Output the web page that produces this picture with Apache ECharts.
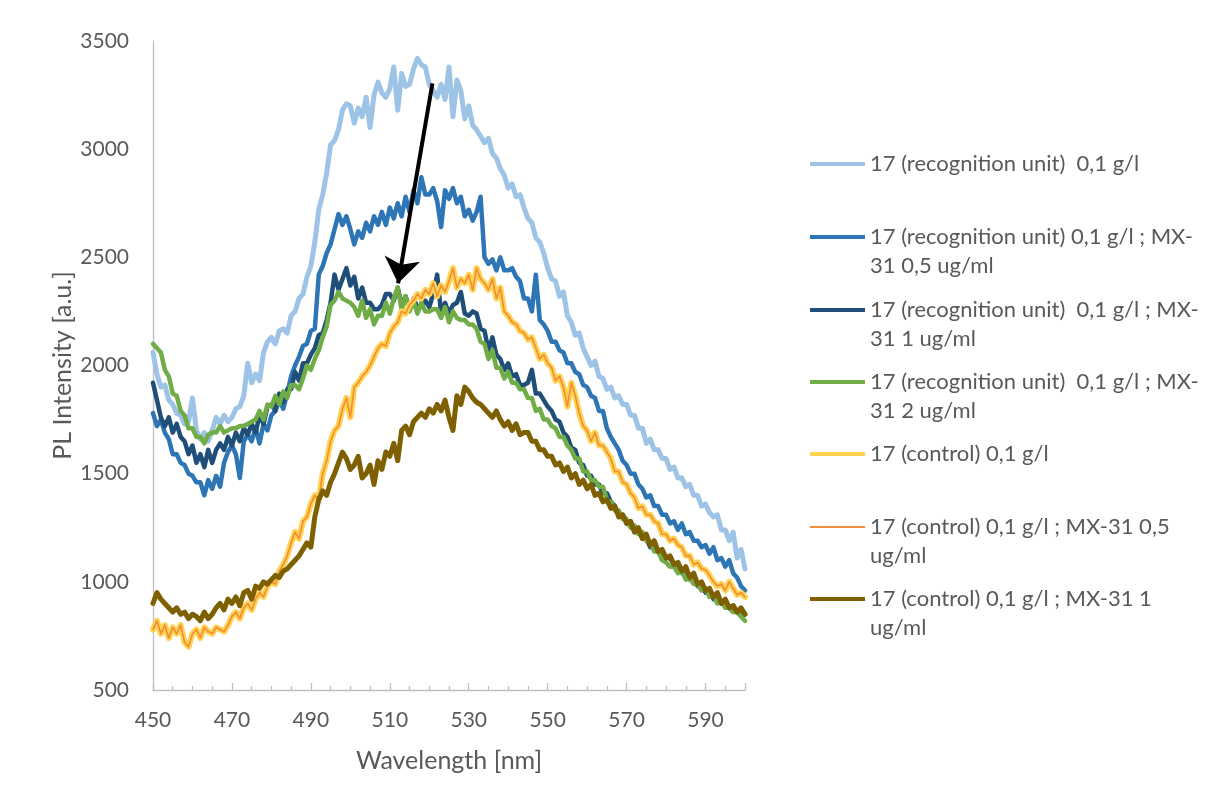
<!DOCTYPE html>
<html><head><meta charset="utf-8">
<script src="https://cdn.jsdelivr.net/npm/echarts@6/dist/echarts.min.js"></script>
<style>html,body{margin:0;padding:0;background:#fff}#c{width:1206px;height:800px}</style>
</head><body><div id="c"></div><script>
// Wavelength grid: 450 .. 600 nm, 1 nm step
const wlStart = 450, wlEnd = 600, wlStep = 1;
const xTicks = [450, 470, 490, 510, 530, 550, 570, 590];
const yTicks = [500, 1000, 1500, 2000, 2500, 3000, 3500];

const recog = [2060,1960,1900,1910,1840,1820,1780,1770,1730,1740,
1850,1700,1660,1690,1650,1700,1760,1730,1770,1740,
1760,1800,1810,1860,2010,1920,1960,1930,2060,2110,
2130,2100,2160,2170,2150,2230,2250,2310,2330,2410,
2460,2570,2720,2790,2890,3020,3040,3090,3180,3210,
3200,3120,3190,3150,3240,3100,3250,3310,3260,3240,
3280,3380,3180,3350,3290,3300,3370,3420,3390,3380,
3300,3270,3240,3300,3230,3380,3150,3320,3270,3140,
3200,3110,3090,3060,3030,3050,2980,2960,2910,2880,
2820,2840,2780,2790,2730,2680,2660,2590,2570,2520,
2450,2400,2390,2320,2340,2230,2200,2140,2150,2080,
2040,2000,2020,1950,1940,1890,1900,1850,1860,1820,
1820,1770,1770,1710,1710,1640,1660,1610,1610,1570,
1570,1520,1530,1480,1480,1440,1450,1400,1400,1350,
1360,1320,1300,1310,1240,1240,1190,1230,1110,1150,
1060];

const recogMx05 = [1780,1720,1750,1690,1660,1590,1590,1550,1540,1500,
1490,1460,1460,1400,1470,1430,1490,1440,1550,1600,
1630,1590,1480,1650,1680,1650,1710,1640,1730,1700,
1770,1790,1840,1800,1870,1950,2000,2040,2090,2100,
2160,2170,2420,2460,2520,2560,2630,2700,2650,2690,
2630,2560,2620,2590,2660,2620,2690,2650,2710,2650,
2730,2680,2750,2690,2780,2710,2810,2750,2870,2790,
2790,2820,2760,2640,2810,2770,2820,2750,2780,2690,
2720,2670,2710,2780,2500,2470,2490,2440,2500,2440,
2440,2450,2410,2390,2310,2310,2250,2420,2210,2190,
2160,2110,2110,2070,2060,2010,2010,1970,1960,1910,
1900,1860,1850,1790,1790,1710,1670,1640,1610,1560,
1540,1500,1500,1450,1430,1390,1400,1350,1350,1310,
1310,1270,1280,1240,1270,1220,1230,1190,1190,1160,
1170,1130,1160,1100,1110,1070,1100,1040,1020,980,
960];

const recogMx1 = [1920,1840,1760,1720,1760,1690,1730,1670,1650,1590,
1630,1550,1590,1530,1610,1550,1610,1640,1610,1670,
1630,1690,1650,1710,1680,1730,1690,1770,1730,1810,
1820,1790,1870,1830,1890,1890,1970,1930,2010,2010,
2050,2080,2140,2150,2210,2290,2420,2350,2400,2450,
2370,2410,2310,2360,2290,2290,2260,2260,2280,2330,
2330,2300,2360,2280,2320,2260,2310,2270,2270,2300,
2270,2330,2420,2240,2290,2240,2280,2290,2340,2240,
2230,2250,2240,2170,2160,2070,2130,2050,2030,1980,
2010,1950,1960,1910,1910,1920,1980,1870,1870,1840,
1810,1790,1750,1740,1690,1670,1620,1610,1550,1540,
1490,1490,1450,1450,1410,1410,1370,1350,1310,1310,
1280,1280,1240,1240,1200,1200,1160,1170,1140,1140,
1110,1110,1080,1080,1040,1050,1010,1010,980,980,
950,960,920,930,900,910,880,890,860,870,
850];

const recogMx2 = [2100,2080,2060,1980,1950,1870,1860,1790,1770,1710,
1710,1670,1670,1640,1680,1690,1690,1720,1690,1700,
1710,1710,1720,1720,1730,1740,1750,1790,1750,1820,
1810,1860,1820,1880,1850,1910,1910,1890,1940,2000,
1980,2030,2070,2130,2180,2280,2300,2340,2310,2300,
2290,2270,2230,2300,2220,2260,2190,2230,2230,2290,
2240,2310,2360,2260,2320,2250,2300,2240,2290,2250,
2250,2260,2260,2220,2270,2200,2250,2220,2210,2210,
2190,2190,2170,2110,2100,2030,2070,1990,1990,1940,
1970,1920,1920,1890,1890,1850,1850,1790,1800,1750,
1750,1720,1710,1670,1670,1630,1610,1570,1570,1510,
1510,1470,1470,1440,1440,1380,1370,1330,1330,1290,
1290,1250,1260,1220,1230,1190,1180,1140,1140,1100,
1090,1070,1070,1040,1050,1010,1020,990,990,960,
970,930,940,900,910,880,880,860,860,840,
820];

const control = [780,820,760,800,740,790,760,800,720,700,
760,780,740,790,770,760,790,780,770,800,
840,860,830,880,900,870,920,950,930,980,
1000,990,1050,1080,1120,1180,1230,1200,1280,1300,
1360,1400,1380,1500,1560,1650,1700,1720,1800,1850,
1760,1900,1920,1950,1970,2000,2040,2080,2100,2090,
2150,2180,2200,2250,2240,2280,2300,2330,2310,2350,
2330,2380,2320,2370,2340,2390,2450,2360,2400,2380,
2420,2350,2450,2400,2380,2350,2400,2310,2360,2250,
2230,2200,2190,2160,2150,2120,2130,2080,2030,2050,
2010,1990,1930,1950,1900,1810,1920,1860,1780,1720,
1700,1650,1690,1630,1630,1600,1570,1510,1510,1460,
1450,1410,1390,1340,1350,1310,1310,1280,1270,1220,
1220,1190,1200,1170,1160,1120,1120,1080,1090,1060,
1055,1030,1000,980,990,960,1000,970,940,950,
930];

const controlMx05 = control.slice(); // overlaps the control curve in the original

const controlMx1 = [900,950,920,900,880,860,880,850,860,830,
850,840,820,860,830,850,880,900,870,920,
900,930,890,950,960,920,980,970,1000,990,
1010,1030,1020,1050,1060,1080,1100,1120,1150,1180,
1160,1300,1380,1420,1400,1460,1500,1550,1600,1570,
1520,1540,1580,1480,1500,1540,1450,1560,1520,1600,
1580,1640,1560,1700,1720,1680,1740,1760,1780,1760,
1800,1780,1820,1790,1840,1760,1700,1860,1820,1900,
1880,1850,1830,1820,1800,1780,1760,1790,1750,1720,
1740,1700,1730,1680,1690,1690,1650,1650,1610,1610,
1580,1580,1540,1550,1510,1530,1480,1500,1450,1470,
1430,1450,1400,1410,1370,1380,1340,1350,1300,1310,
1270,1280,1230,1250,1200,1220,1170,1190,1140,1150,
1110,1120,1080,1090,1050,1070,1020,1040,990,1000,
960,970,930,950,900,920,880,890,860,880,
850];

const seriesNames = [
  '17 (recognition unit)  0,1 g/l',
  '17 (recognition unit) 0,1 g/l ; MX-31 0,5 ug/ml',
  '17 (recognition unit)  0,1 g/l ; MX-31 1 ug/ml',
  '17 (recognition unit)  0,1 g/l ; MX-31 2 ug/ml',
  '17 (control) 0,1 g/l',
  '17 (control) 0,1 g/l ; MX-31 0,5 ug/ml',
  '17 (control) 0,1 g/l ; MX-31 1 ug/ml'
];
const legendLines = [
  ['17 (recognition unit)  0,1 g/l'],
  ['17 (recognition unit) 0,1 g/l ; MX-', '31 0,5 ug/ml'],
  ['17 (recognition unit)  0,1 g/l ; MX-', '31 1 ug/ml'],
  ['17 (recognition unit)  0,1 g/l ; MX-', '31 2 ug/ml'],
  ['17 (control) 0,1 g/l'],
  ['17 (control) 0,1 g/l ; MX-31 0,5', 'ug/ml'],
  ['17 (control) 0,1 g/l ; MX-31 1', 'ug/ml']
];
const seriesValues = [recog, recogMx05, recogMx1, recogMx2, control, controlMx05, controlMx1];
const seriesColors = ['#9DC3E6', '#2E75B6', '#1F4E79', '#70AD47', '#FFD34F', '#F08C3A', '#7F6000'];
const seriesWidths = [5, 4.5, 4.5, 4.5, 6, 1.6, 5];
const legendIconH = [4, 4, 4, 4, 4, 2, 4];
const legendIconY = [164, 237, 310, 382, 454, 527, 599];

// annotation arrow (data coordinates): from -> to
const arrowFrom = [520.8, 3304];
const arrowTo = [512.1, 2380];

const FONT = 'Lato, "Liberation Sans", sans-serif';
const TXT = '#595959';
const AX = '#BFBFBF';
const LH = 29;

const wl = [];
for (let w = wlStart; w <= wlEnd; w += wlStep) wl.push(w);

const series = seriesValues.map((vals, i) => ({
  name: seriesNames[i],
  type: 'line',
  data: vals.map((v, k) => [wl[k], v]),
  showSymbol: false,
  symbol: 'none',
  color: seriesColors[i],
  lineStyle: { width: seriesWidths[i], color: seriesColors[i], join: 'round', cap: 'round' },
  emphasis: { disabled: true },
  z: 2 + i
}));
series[series.length - 1].markLine = {
  silent: true,
  symbol: ['none', 'arrow'],
  symbolSize: [27, 25],
  label: { show: false },
  emphasis: { disabled: true },
  lineStyle: { color: '#000', width: 4, type: 'solid' },
  data: [[{ coord: arrowFrom }, { coord: arrowTo }]]
};

const legends = seriesNames.map((name, i) => {
  const two = legendLines[i].length > 1;
  return {
    data: [name],
    left: 810,
    top: legendIconY[i] - (two ? 1.5 * LH : 0.5 * LH),
    orient: 'vertical',
    padding: 0,
    icon: 'rect',
    itemWidth: 55,
    itemHeight: legendIconH[i],
    itemGap: 0,
    selectedMode: false,
    // an invisible leading line keeps the icon level with the first text line
    formatter: () => (two ? ' \n' : '') + legendLines[i].join('\n'),
    textStyle: { color: TXT, fontFamily: FONT, fontSize: 22, lineHeight: LH }
  };
});

const chart = echarts.init(document.getElementById('c'), null, { renderer: 'canvas' });
chart.setOption({
  animation: false,
  backgroundColor: '#fff',
  grid: { left: 153, top: 41, width: 592, height: 649, containLabel: false },
  legend: legends,
  xAxis: {
    type: 'value',
    min: xTicks[0], max: wlEnd, interval: xTicks[1] - xTicks[0],
    name: 'Wavelength [nm]', nameLocation: 'middle', nameGap: 58,
    nameTextStyle: { color: TXT, fontFamily: FONT, fontSize: 25 },
    axisLine: { show: true, lineStyle: { color: AX, width: 1.3 } },
    axisTick: { show: true, inside: true, length: 7, lineStyle: { color: AX, width: 1.3 } },
    minorTick: { show: true, splitNumber: 4, length: 4, lineStyle: { color: AX, width: 1.3 } },
    splitLine: { show: false }, minorSplitLine: { show: false },
    axisLabel: { color: TXT, fontFamily: FONT, fontSize: 21, margin: 20, showMaxLabel: false,
      formatter: v => (xTicks.indexOf(v) >= 0 ? String(v) : '') }
  },
  yAxis: {
    type: 'value',
    min: yTicks[0], max: yTicks[yTicks.length - 1], interval: yTicks[1] - yTicks[0],
    name: 'PL Intensity [a.u.]', nameLocation: 'middle', nameGap: 78,
    nameTextStyle: { color: TXT, fontFamily: FONT, fontSize: 25 },
    axisLine: { show: true, lineStyle: { color: AX, width: 1.3 } },
    axisTick: { show: false },
    splitLine: { show: false },
    axisLabel: { color: TXT, fontFamily: FONT, fontSize: 21, margin: 24, formatter: v => String(v) }
  },
  series: series
});
</script></body></html>
